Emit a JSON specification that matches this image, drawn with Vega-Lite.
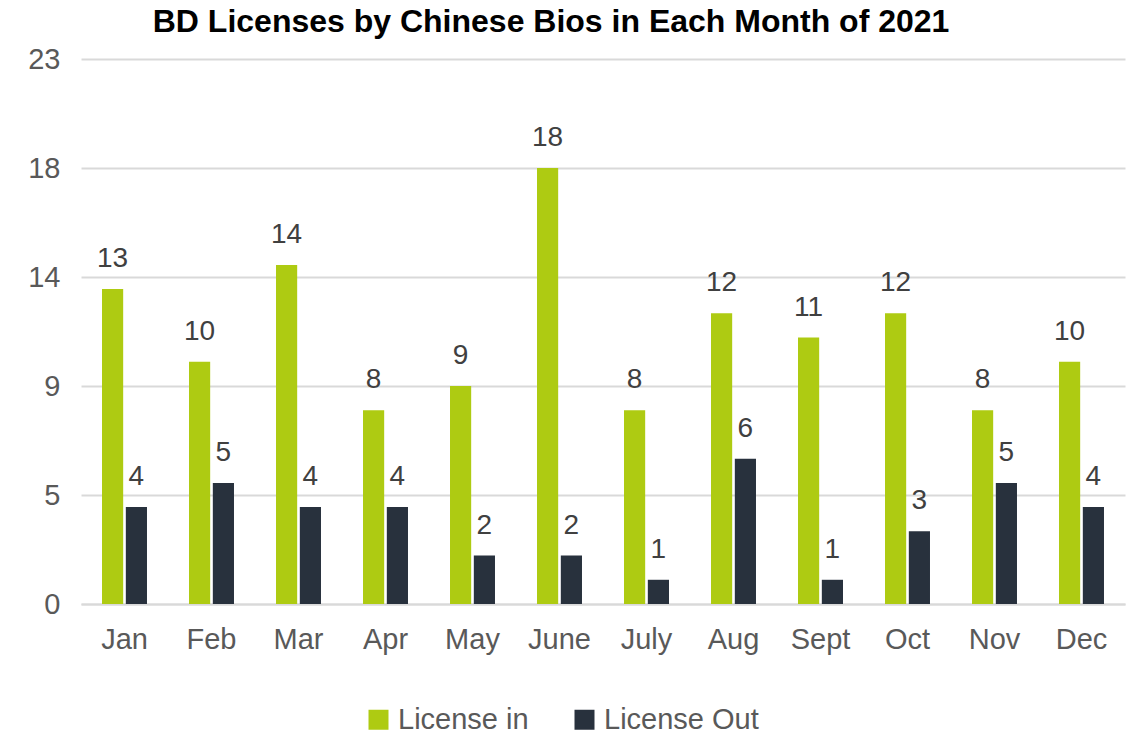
{
  "$schema": "https://vega.github.io/schema/vega-lite/v6.json",
  "width": 1044,
  "height": 545,
  "autosize": {"type": "none"},
  "padding": {"left": 81, "top": 59, "right": 13, "bottom": 131},
  "background": "white",
  "title": {
    "text": "BD Licenses by Chinese Bios in Each Month of 2021",
    "anchor": "start",
    "dx": 125,
    "offset": 6,
    "font": "Liberation Sans",
    "fontSize": 32,
    "fontWeight": "bold",
    "color": "#000000"
  },
  "config": {
    "view": {"stroke": null},
    "font": "Liberation Sans"
  },
  "data": {
    "values": [
      {"month": "Jan", "type": "License in", "count": 13},
      {"month": "Jan", "type": "License Out", "count": 4},
      {"month": "Feb", "type": "License in", "count": 10},
      {"month": "Feb", "type": "License Out", "count": 5},
      {"month": "Mar", "type": "License in", "count": 14},
      {"month": "Mar", "type": "License Out", "count": 4},
      {"month": "Apr", "type": "License in", "count": 8},
      {"month": "Apr", "type": "License Out", "count": 4},
      {"month": "May", "type": "License in", "count": 9},
      {"month": "May", "type": "License Out", "count": 2},
      {"month": "June", "type": "License in", "count": 18},
      {"month": "June", "type": "License Out", "count": 2},
      {"month": "July", "type": "License in", "count": 8},
      {"month": "July", "type": "License Out", "count": 1},
      {"month": "Aug", "type": "License in", "count": 12},
      {"month": "Aug", "type": "License Out", "count": 6},
      {"month": "Sept", "type": "License in", "count": 11},
      {"month": "Sept", "type": "License Out", "count": 1},
      {"month": "Oct", "type": "License in", "count": 12},
      {"month": "Oct", "type": "License Out", "count": 3},
      {"month": "Nov", "type": "License in", "count": 8},
      {"month": "Nov", "type": "License Out", "count": 5},
      {"month": "Dec", "type": "License in", "count": 10},
      {"month": "Dec", "type": "License Out", "count": 4}
    ]
  },
  "encoding": {
    "x": {
      "field": "month",
      "type": "nominal",
      "sort": null,
      "scale": {"paddingInner": 0.483, "paddingOuter": 0.2415},
      "axis": {
        "title": null,
        "labelAngle": 0,
        "labelFontSize": 29,
        "labelColor": "#595959",
        "labelPadding": 21,
        "ticks": false,
        "domainColor": "#d9d9d9",
        "domainWidth": 2
      }
    },
    "xOffset": {
      "field": "type",
      "type": "nominal",
      "sort": ["License in", "License Out"],
      "scale": {"paddingInner": 0.111, "paddingOuter": 0}
    },
    "y": {
      "field": "count",
      "type": "quantitative",
      "scale": {"domain": [0, 22.5], "nice": false},
      "axis": {
        "title": null,
        "values": [0, 4.5, 9, 13.5, 18, 22.5],
        "format": ".0f",
        "labelFontSize": 29,
        "labelColor": "#595959",
        "labelPadding": 21,
        "ticks": false,
        "domain": false,
        "gridColor": "#d9d9d9",
        "gridWidth": 2
      }
    }
  },
  "layer": [
    {
      "mark": {"type": "bar"},
      "encoding": {
        "color": {
          "field": "type",
          "type": "nominal",
          "sort": ["License in", "License Out"],
          "scale": {"domain": ["License in", "License Out"], "range": ["#aecb12", "#28313d"]},
          "legend": {
            "title": null,
            "orient": "none",
            "direction": "horizontal",
            "legendX": 283,
            "legendY": 646,
            "symbolType": "square",
            "symbolSize": 400,
            "symbolStrokeWidth": 0,
            "labelFontSize": 29,
            "labelColor": "#595959",
            "labelOffset": 5,
            "columnPadding": 41
          }
        }
      }
    },
    {
      "mark": {"type": "text", "baseline": "alphabetic", "dy": -22, "fontSize": 28, "color": "#404040"},
      "encoding": {
        "text": {"field": "count", "type": "quantitative"}
      }
    }
  ]
}
